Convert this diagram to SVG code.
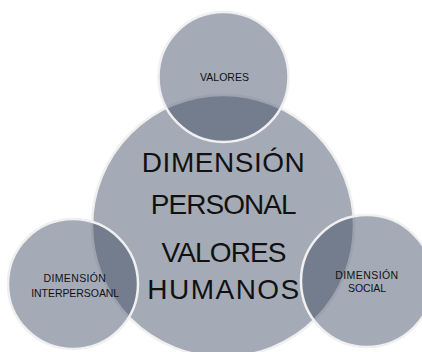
<svg xmlns="http://www.w3.org/2000/svg" width="422" height="352" viewBox="0 0 422 352">
<style>
.c{fill:#37445d;fill-opacity:0.45;stroke:#f0f0f0;stroke-width:2.5}
.t{font-family:"Liberation Sans",Arial,sans-serif;fill:#111;text-anchor:middle}
.big{font-size:28px}
.sm{font-size:10.5px}
</style>
<rect width="422" height="352" fill="#ffffff"/>
<g id="connectors"></g>
<g id="center">
<circle class="c" cx="223" cy="226" r="131"/>
</g>
<g id="top">
<circle class="c" cx="223.5" cy="77" r="65"/>
<text class="t sm" x="224.5" y="80.7" textLength="49">VALORES</text>
</g>
<g id="left">
<circle class="c" cx="73" cy="284" r="65"/>
<text class="t sm" x="74.7" y="281.7" textLength="62.5">DIMENSIÓN</text>
<text class="t sm" x="75.2" y="297.3" textLength="88">INTERPERSOANL</text>
</g>
<g id="right">
<circle class="c" cx="367" cy="281" r="66"/>
<text class="t sm" x="366.7" y="279" textLength="63">DIMENSIÓN</text>
<text class="t sm" x="367" y="292.3" textLength="38">SOCIAL</text>
</g>
<g id="center-text">
<text class="t big" x="223.3" y="171.7" textLength="163">DIMENSIÓN</text>
<text class="t big" x="223.7" y="214" textLength="146">PERSONAL</text>
<text class="t big" x="224" y="261.7" textLength="125">VALORES</text>
<text class="t big" x="223.3" y="299" textLength="152">HUMANOS</text>
</g>
</svg>
